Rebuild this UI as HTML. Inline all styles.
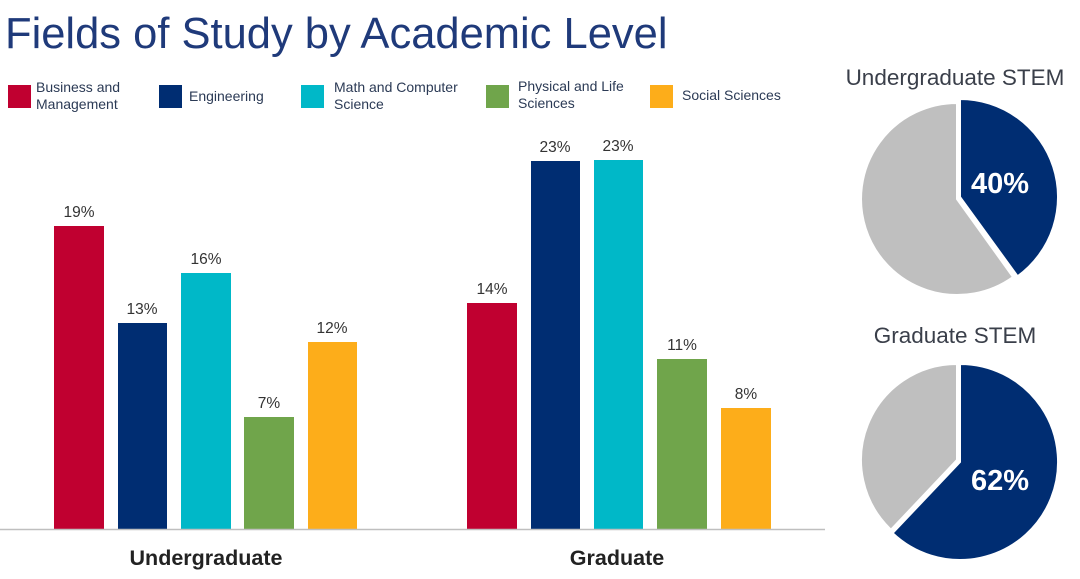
<!DOCTYPE html>
<html><head><meta charset="utf-8"><style>
body{margin:0;background:#fff;width:1080px;height:574px;overflow:hidden;font-family:"Liberation Sans",sans-serif}
</style></head><body>
<svg width="1080" height="574" xmlns="http://www.w3.org/2000/svg" font-family="Liberation Sans, sans-serif">
<text x="5" y="48" font-size="43.5" fill="#1f3a7a">Fields of Study by Academic Level</text>
<g font-size="14" fill="#2b3a55">
<rect x="8" y="85" width="23" height="23" fill="#c00030"/><text x="36" y="92">Business and</text><text x="36" y="109">Management</text>
<rect x="159" y="85" width="23" height="23" fill="#002d72"/><text x="189" y="101">Engineering</text>
<rect x="301" y="85" width="23" height="23" fill="#00b8c8"/><text x="334" y="92">Math and Computer</text><text x="334" y="109">Science</text>
<rect x="486" y="85" width="23" height="23" fill="#70a54b"/><text x="518" y="91">Physical and Life</text><text x="518" y="108">Sciences</text>
<rect x="650" y="85" width="23" height="23" fill="#fdad1a"/><text x="682" y="100">Social Sciences</text>
</g>
<g>
<rect x="54" y="226" width="50" height="303" fill="#c00030"/>
<rect x="118" y="323" width="49" height="206" fill="#002d72"/>
<rect x="181" y="273" width="50" height="256" fill="#00b8c8"/>
<rect x="244" y="417" width="50" height="112" fill="#70a54b"/>
<rect x="308" y="342" width="49" height="187" fill="#fdad1a"/>
<rect x="467" y="303" width="50" height="226" fill="#c00030"/>
<rect x="531" y="161" width="49" height="368" fill="#002d72"/>
<rect x="594" y="160" width="49" height="369" fill="#00b8c8"/>
<rect x="657" y="359" width="50" height="170" fill="#70a54b"/>
<rect x="721" y="408" width="50" height="121" fill="#fdad1a"/>
</g>
<g font-size="15.5" fill="#333" text-anchor="middle">
<text x="79" y="217">19%</text><text x="142" y="314">13%</text><text x="206" y="264">16%</text><text x="269" y="408">7%</text><text x="332" y="333">12%</text>
<text x="492" y="294">14%</text><text x="555" y="152">23%</text><text x="618" y="151">23%</text><text x="682" y="350">11%</text><text x="746" y="399">8%</text>
</g>
<line x1="0" y1="529.5" x2="825" y2="529.5" stroke="#bfbfbf" stroke-width="1.5"/>
<g font-size="21.5" font-weight="bold" fill="#222" text-anchor="middle">
<text x="206" y="565">Undergraduate</text><text x="617" y="565">Graduate</text>
</g>
<g font-size="22.5" fill="#3a3f4a" text-anchor="middle">
<text x="955" y="85">Undergraduate STEM</text><text x="955" y="343">Graduate STEM</text>
</g>
<path d="M957,199 L957,103 A96,96 0 1 0 1013,277 Z" fill="#bfbfbf" stroke="#fff" stroke-width="2"/>
<path d="M960,197 L960,99 A98,98 0 0 1 1017.6,276.3 Z" fill="#002d72" stroke="#fff" stroke-width="2"/>
<text x="1000" y="193" font-size="29" font-weight="bold" fill="#fff" text-anchor="middle">40%</text>
<path d="M957,460 L957,364 A96,96 0 0 0 891,529.7 Z" fill="#bfbfbf" stroke="#fff" stroke-width="2"/>
<path d="M960,462 L960,364 A98,98 0 1 1 892.6,533.1 Z" fill="#002d72" stroke="#fff" stroke-width="2"/>
<text x="1000" y="490" font-size="29" font-weight="bold" fill="#fff" text-anchor="middle">62%</text>
</svg>
</body></html>
